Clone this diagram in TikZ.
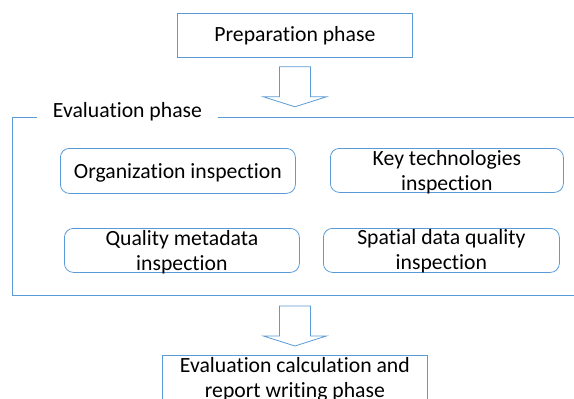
\documentclass[tikz,border=0pt]{standalone}
\usepackage{fontspec}
\setmainfont{Carlito}[Ligatures=NoCommon]
\definecolor{lineblue}{RGB}{91,155,213}
\newcommand{\fatdown}[1]{\draw[hollowarrow] #1 ++(-15.5,0) -- ++(31,0) -- ++(0,30) -- ++(16,0) -- ++(-31.5,10) -- ++(-31.5,-10) -- ++(16,0) -- cycle;}
\begin{document}
\begin{tikzpicture}[x=1pt, y=-1pt]
    % Define styles
    \tikzset{
        phasebox/.style={draw=lineblue, line width=0.8pt, inner sep=0pt, anchor=north west, align=center, font=\fontsize{21.7}{25.5}\selectfont},
        checkbox/.style={phasebox, rounded corners=9pt},
        framelabel/.style={inner xsep=15.5pt, inner ysep=0pt, anchor=base, font=\fontsize{21.7}{25.5}\selectfont},
        frameline/.style={draw=lineblue, line width=0.8pt},
        hollowarrow/.style={draw=lineblue, line width=0.8pt, fill=white}
    }
    \useasboundingbox (0,0) rectangle (574,399);

    % Phases
    \node[phasebox, minimum width=235pt, text height=28pt, text depth=16pt] (prep) at (177,13) {Preparation phase};
    \node[phasebox, minimum width=265pt, text height=42.5pt, text depth=14.5pt] (calc) at (162,355) {Evaluation calculation and\\report writing phase};

    % Evaluation frame
    \node[framelabel] (evallbl) at (127.5,117) {Evaluation phase};
    \draw[frameline] (evallbl.base west) -| (12,295) -- (574,295);
    \draw[frameline] (evallbl.base east) -- (574,117);

    % Inspections
    \node[checkbox, minimum width=235pt, text height=30pt, text depth=15pt] (org) at (60,148) {Organization inspection};
    \node[checkbox, minimum width=233pt, text height=42.5pt, text depth=1.5pt] (key) at (330,148) {Key technologies\\inspection};
    \node[checkbox, minimum width=235pt, text height=42.5pt, text depth=1.5pt] (meta) at (64,228) {Quality metadata\\inspection};
    \node[checkbox, minimum width=236pt, text height=41.5pt, text depth=2.5pt] (spat) at (323,228) {Spatial data quality\\inspection};

    % Arrows
    \fatdown{(prep.south) ++(0,9)}
    \fatdown{(calc.north) ++(0,-49)}
\end{tikzpicture}
\end{document}
